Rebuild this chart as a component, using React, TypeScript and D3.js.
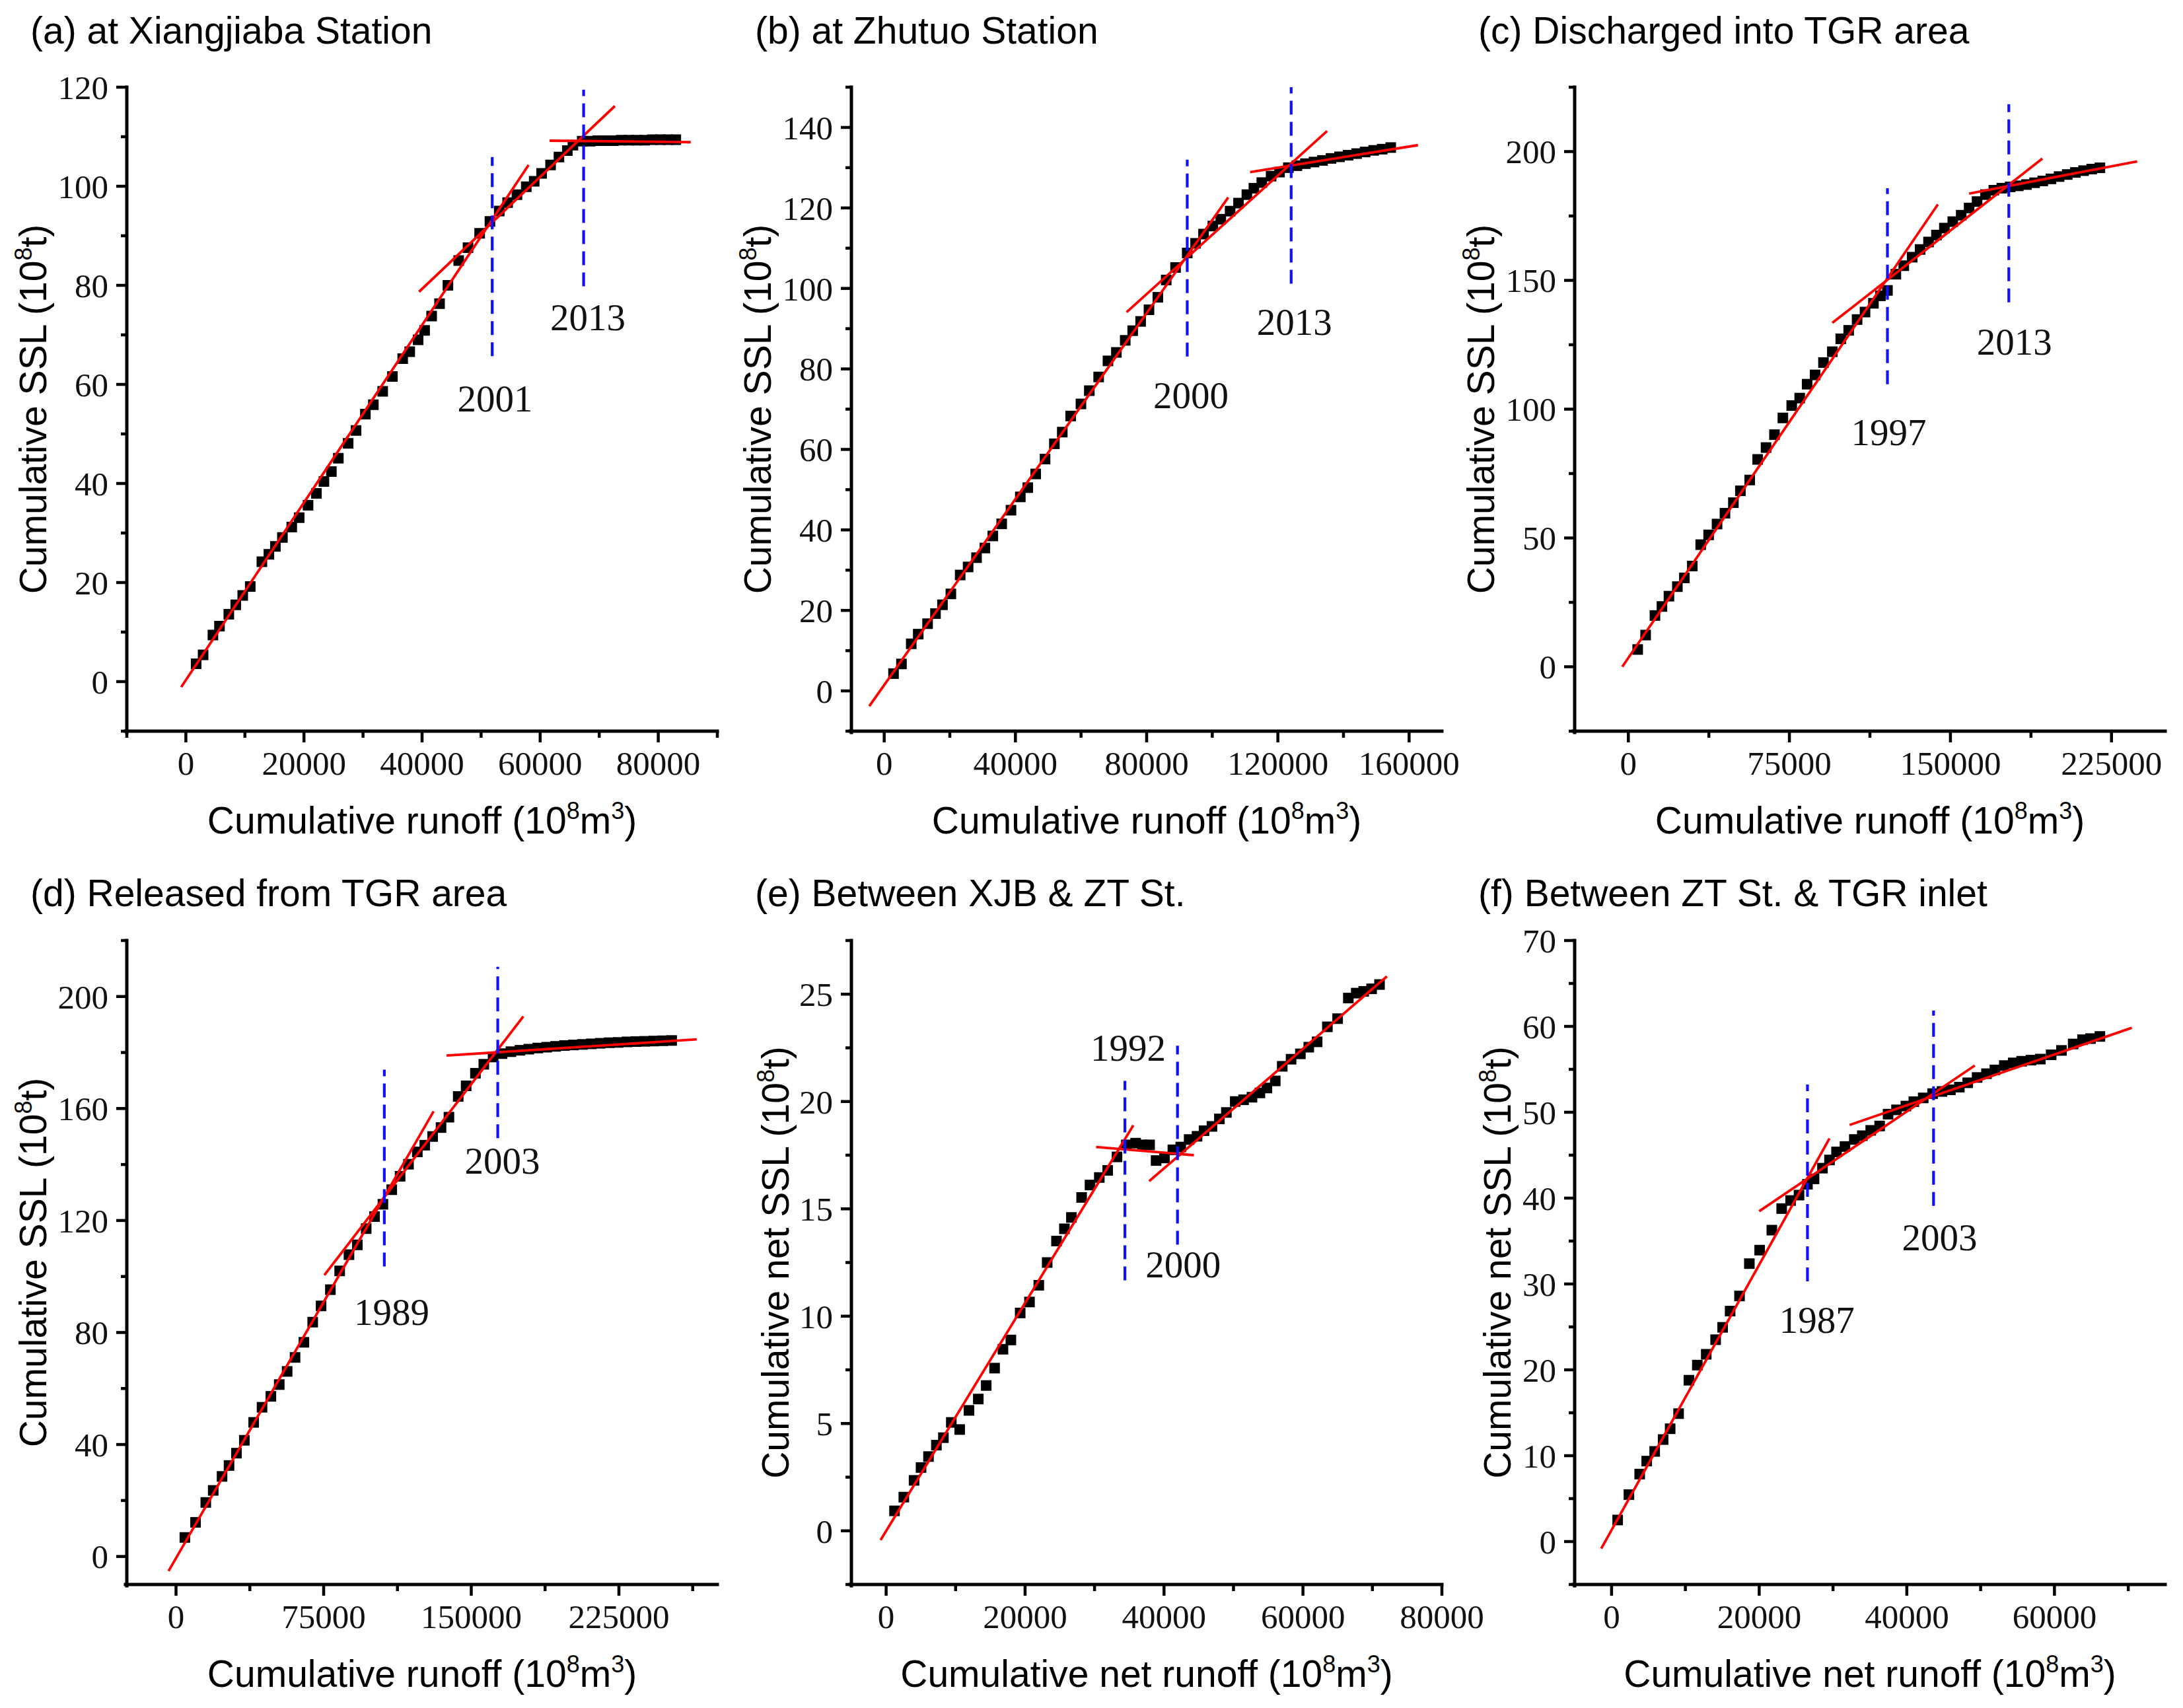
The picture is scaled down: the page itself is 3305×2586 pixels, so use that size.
import * as d3 from "d3";

// ---- data: cumulative runoff (x) vs cumulative SSL (y) ----

const runoffA = [1740, 2920, 4580, 5690, 7270, 8450, 9630, 10900, 12870, 14060, 15160, 16350, 17930, 19190, 20690, 22110, 23380, 24640, 25820, 27480, 28820, 30400, 31750, 33330, 34980, 36720, 37910, 39330, 40430, 41620, 42960, 44380, 46200, 47780, 49750, 51490, 53070, 54490, 56070, 57650, 58990, 60250, 61760, 63180, 64600, 65550, 67130, 68450, 69770, 71090, 72410, 73730, 75050, 76370, 77690, 79010, 80330, 81650, 82970];
const sslA = [3.6, 5.4, 9.4, 11.2, 13.6, 15.5, 17.4, 19.2, 24.2, 25.7, 27.3, 29.1, 31.2, 33.1, 35.6, 38.0, 40.4, 42.4, 45.1, 48.1, 50.7, 54.0, 55.9, 58.6, 61.6, 65.2, 66.6, 69.0, 70.9, 73.8, 76.3, 80.0, 85.0, 87.6, 90.5, 92.9, 95.0, 96.7, 98.3, 99.9, 101.0, 102.6, 104.3, 105.9, 107.2, 108.3, 109.1, 109.1, 109.2, 109.2, 109.2, 109.3, 109.3, 109.3, 109.3, 109.4, 109.4, 109.4, 109.4];
const fitA = [[-790, -1.1, 58040, 104.3], [39490, 78.7, 72650, 116.2], [61600, 109.2, 85500, 108.9]];
const breaksA = [{ x: 51880, y0: 65.7, y1: 105.9 }, { x: 67360, y0: 79.8, y1: 119.5 }];
const yearsA = [{ text: "2001", x: 52360, y: 54.6 }, { text: "2013", x: 68070, y: 70.9 }];

const runoffB = [2840, 5260, 8240, 10370, 13220, 15630, 17760, 20320, 23160, 25580, 28140, 30690, 33110, 35810, 38650, 41490, 43770, 46180, 49030, 51870, 54280, 56840, 59970, 62520, 65370, 68210, 70770, 73470, 75740, 78160, 80710, 83410, 85970, 88810, 92370, 94920, 97340, 100180, 102600, 105440, 108000, 110550, 112690, 115100, 117940, 120500, 123200, 125800, 128400, 131000, 133600, 136200, 138800, 141400, 144000, 146600, 149200, 151800, 154400];
const sslB = [4.3, 6.7, 11.7, 14.1, 16.7, 19.2, 21.4, 24.1, 28.8, 30.8, 33.1, 35.5, 38.5, 41.5, 44.9, 48.2, 50.5, 53.9, 57.6, 61.4, 64.3, 68.3, 71.3, 74.6, 78.0, 82.0, 84.1, 87.1, 89.5, 91.8, 94.7, 97.8, 102.1, 105.2, 108.8, 111.2, 113.5, 115.5, 117.2, 119.2, 121.2, 123.3, 124.9, 126.3, 127.9, 128.9, 130.0, 130.5, 131.0, 131.4, 131.8, 132.3, 132.7, 133.1, 133.5, 133.9, 134.3, 134.6, 135.0];
const fitB = [[-4550, -3.8, 104870, 122.6], [73890, 94.1, 135000, 139.1], [111550, 128.9, 162700, 135.6]];
const breaksB = [{ x: 92370, y0: 83.1, y1: 132 }, { x: 124050, y0: 101.2, y1: 150 }];
const yearsB = [{ text: "2000", x: 93500, y: 70.3 }, { text: "2013", x: 125050, y: 88.4 }];

const runoffC = [4350, 8040, 12390, 15650, 18910, 22830, 26090, 29780, 33700, 37390, 41310, 45000, 48920, 52180, 56520, 60220, 64130, 68050, 71960, 76090, 79790, 83260, 86960, 90870, 95000, 98920, 102610, 106530, 110220, 114140, 117400, 120660, 124570, 128270, 132180, 135880, 139790, 143480, 147180, 151090, 155010, 158700, 162400, 166310, 170220, 173920, 177800, 181600, 185400, 189200, 193000, 196800, 200600, 204400, 208200, 212000, 215800, 219600];
const sslC = [6.7, 12.3, 19.9, 23.4, 27.4, 31.1, 34.5, 39.1, 47.4, 51.2, 55.4, 59.6, 63.7, 68.3, 72.5, 80.5, 85.1, 90.1, 96.6, 101.4, 104.3, 109.7, 113.3, 118.1, 122.3, 127.3, 130.6, 134.8, 137.7, 141.1, 144.0, 146.1, 152.4, 155.7, 159.0, 162.0, 164.9, 167.6, 170.3, 172.8, 175.3, 178.1, 180.6, 183.3, 185.0, 185.8, 186.3, 186.7, 187.2, 187.9, 188.6, 189.4, 190.3, 191.1, 191.9, 192.6, 193.2, 193.7];
const fitC = [[-2830, 0, 144140, 179.5], [95000, 133.5, 192830, 197.3], [158700, 183.7, 236970, 196.2]];
const breaksC = [{ x: 120660, y0: 109.7, y1: 185.8 }, { x: 177180, y0: 141.5, y1: 218.4 }];
const yearsC = [{ text: "1997", x: 121300, y: 86.1 }, { text: "2013", x: 179800, y: 121.2 }];

const runoffD = [4490, 9920, 15120, 18900, 23380, 26930, 30710, 34720, 39450, 43700, 48190, 52440, 56450, 60470, 64960, 69440, 73690, 78420, 83140, 87870, 92120, 96610, 100860, 105110, 109600, 113850, 118100, 122590, 126370, 130380, 134630, 138650, 143370, 147390, 152110, 156360, 161090, 165630, 170160, 174700, 179230, 183770, 188300, 192840, 197370, 201910, 206440, 210980, 215510, 220050, 224580, 229120, 233650, 238190, 242720, 247260, 251800];
const sslD = [6.8, 12.2, 19.3, 23.6, 28.6, 32.5, 36.9, 41.5, 47.9, 53.3, 57.2, 61.4, 66.1, 71.1, 76.5, 83.7, 89.5, 95.3, 102.0, 107.8, 111.3, 117.1, 121.4, 125.8, 131.0, 135.8, 140.1, 144.5, 146.9, 150.0, 153.2, 156.9, 164.3, 168.1, 172.6, 175.8, 178.4, 179.6, 180.3, 180.8, 181.2, 181.6, 181.9, 182.2, 182.5, 182.7, 182.9, 183.1, 183.3, 183.5, 183.6, 183.8, 183.9, 184.0, 184.1, 184.2, 184.3];
const fitD = [[-3780, -5.2, 130860, 159.0], [75350, 100.5, 176440, 192.9], [137470, 178.9, 264540, 184.7]];
const breaksD = [{ x: 105820, y0: 103.6, y1: 173.9 }, { x: 163450, y0: 149.4, y1: 210.6 }];
const yearsD = [{ text: "1989", x: 109600, y: 82.7 }, { text: "2003", x: 165800, y: 136.8 }];

const runoffE = [1206, 2546, 4020, 5025, 6097, 7236, 8241, 9380, 10586, 11926, 13266, 14405, 15611, 16817, 17956, 19296, 20636, 21976, 23182, 24522, 25661, 26666, 28140, 29346, 30686, 31892, 33232, 34572, 35912, 36917, 37922, 38860, 40066, 41272, 42411, 43617, 44756, 45761, 46900, 47972, 48977, 50250, 51456, 52662, 53801, 54806, 56012, 57017, 58290, 59630, 60836, 62042, 63516, 64990, 66531, 67670, 68742, 69881, 71020];
const sslE = [0.93, 1.57, 2.35, 2.95, 3.46, 3.99, 4.34, 5.05, 4.72, 5.61, 6.14, 6.77, 7.58, 8.46, 8.89, 10.15, 10.66, 11.44, 12.5, 13.5, 14.07, 14.6, 15.53, 16.11, 16.46, 16.79, 17.42, 17.98, 18.06, 17.98, 17.98, 17.25, 17.37, 17.75, 17.88, 18.23, 18.38, 18.64, 18.84, 19.19, 19.49, 20.0, 20.08, 20.2, 20.4, 20.63, 20.96, 21.64, 21.97, 22.22, 22.53, 22.78, 23.48, 23.86, 24.82, 25.05, 25.13, 25.25, 25.45];
const fitE = [[-800, -0.43, 35580, 18.89], [30220, 17.88, 44290, 17.5], [37860, 16.29, 72090, 25.83]];
const breaksE = [{ x: 34370, y0: 11.67, y1: 20.96 }, { x: 41940, y0: 13.33, y1: 22.6 }];
const yearsE = [{ text: "1992", x: 34840, y: 21.9 }, { text: "2000", x: 42750, y: 11.8 }];

const runoffF = [825, 2349, 3809, 4762, 5841, 6984, 7936, 9079, 10476, 11619, 12825, 14095, 15047, 16063, 17333, 18666, 20063, 21714, 23047, 24253, 25396, 26539, 27428, 28571, 29523, 30476, 31619, 32888, 33968, 35111, 36317, 37460, 38603, 39873, 40952, 42222, 43492, 44761, 45904, 47110, 48253, 49523, 50792, 51935, 53205, 54411, 55554, 56824, 58093, 59554, 60950, 62538, 63808, 64888, 66157];
const sslF = [2.51, 5.47, 7.86, 9.37, 10.5, 11.88, 13.14, 14.9, 18.79, 20.55, 21.81, 23.51, 24.95, 26.84, 28.6, 32.37, 33.94, 36.27, 38.78, 39.72, 40.35, 41.61, 42.24, 43.49, 44.44, 45.38, 46.01, 46.83, 47.27, 47.89, 48.4, 49.78, 50.28, 50.72, 51.23, 51.67, 52.17, 52.42, 52.61, 52.92, 53.43, 54.05, 54.49, 54.93, 55.44, 55.75, 55.94, 56.07, 56.19, 56.69, 57.2, 57.95, 58.45, 58.58, 58.83];
const fitF = [[-1400, -0.82, 29520, 46.95], [20000, 38.47, 49210, 55.44], [32250, 48.52, 70480, 59.84]];
const breaksF = [{ x: 26540, y0: 30.3, y1: 53.24 }, { x: 43620, y0: 39.1, y1: 61.85 }];
const yearsF = [{ text: "1987", x: 27810, y: 24.3 }, { text: "2003", x: 44440, y: 33.9 }];

// ---- layout ----

const W = 3305;
const H = 2586;
const PW = 894;
const PH = 975;
const SANS = "'Liberation Sans', Arial, Helvetica, sans-serif";
const SERIF = "'Liberation Serif', 'Times New Roman', serif";
const MARK = 16;

const panels = [
  { title: "(a) at Xiangjiaba Station", left: 192, top: 132, titleGap: 66, xs: runoffA, ys: sslA, fits: fitA, breaks: breaksA, years: yearsA,
    xDomain: [-10000, 90000], xMajor: 20000, xMinor: 10000, xMax: 80000, yDomain: [-10, 120], yMajor: 20, yMinor: 10, yMax: 120, net: false, yTitleOff: 122 },
  { title: "(b) at Zhutuo Station", left: 1289, top: 132, titleGap: 66, xs: runoffB, ys: sslB, fits: fitB, breaks: breaksB, years: yearsB,
    xDomain: [-10000, 170000], xMajor: 40000, xMinor: 20000, xMax: 160000, yDomain: [-10, 150], yMajor: 20, yMinor: 10, yMax: 140, net: false, yTitleOff: 122 },
  { title: "(c) Discharged into TGR area", left: 2384, top: 132, titleGap: 66, xs: runoffC, ys: sslC, fits: fitC, breaks: breaksC, years: yearsC,
    xDomain: [-25000, 250000], xMajor: 75000, xMinor: 37500, xMax: 225000, yDomain: [-25, 225], yMajor: 50, yMinor: 25, yMax: 200, net: false, yTitleOff: 122 },
  { title: "(d) Released from TGR area", left: 192, top: 1424, titleGap: 52, xs: runoffD, ys: sslD, fits: fitD, breaks: breaksD, years: yearsD,
    xDomain: [-25000, 275000], xMajor: 75000, xMinor: 37500, xMax: 225000, yDomain: [-10, 220], yMajor: 40, yMinor: 20, yMax: 200, net: false, yTitleOff: 122 },
  { title: "(e) Between XJB & ZT St.", left: 1289, top: 1424, titleGap: 52, xs: runoffE, ys: sslE, fits: fitE, breaks: breaksE, years: yearsE,
    xDomain: [-5000, 80000], xMajor: 20000, xMinor: 10000, xMax: 80000, yDomain: [-2.5, 27.5], yMajor: 5, yMinor: 2.5, yMax: 25, net: true, yTitleOff: 95 },
  { title: "(f) Between ZT St. & TGR inlet", left: 2384, top: 1424, titleGap: 52, xs: runoffF, ys: sslF, fits: fitF, breaks: breaksF, years: yearsF,
    xDomain: [-5000, 75000], xMajor: 20000, xMinor: 10000, xMax: 60000, yDomain: [-5, 70], yMajor: 10, yMinor: 5, yMax: 70, net: true, yTitleOff: 97 },
];

function minorTicks(domain: number[], step: number, major: number) {
  const out: number[] = [];
  for (let v = Math.ceil(domain[0] / step - 1e-9) * step; v <= domain[1] + 1e-9; v += step) {
    const r = Math.abs(v / major - Math.round(v / major));
    if (r > 1e-6 || v < 0) out.push(v);
  }
  return out;
}

function Panel({ p }: { p: (typeof panels)[number] }) {
  const x = d3.scaleLinear().domain(p.xDomain).range([0, PW]);
  const y = d3.scaleLinear().domain(p.yDomain).range([PH, 0]);
  const xMaj = d3.range(0, p.xMax + 1, p.xMajor);
  const yMaj = d3.range(0, p.yMax + 1e-6, p.yMajor);
  const xMin = minorTicks(p.xDomain, p.xMinor, p.xMajor);
  const yMin = minorTicks(p.yDomain, p.yMinor, p.yMajor);
  const net = p.net ? "net " : "";

  return (
    <g transform={`translate(${p.left},${p.top})`}>
      <text x={-146} y={-p.titleGap} fontFamily={SANS} fontSize={57} fill="#000">{p.title}</text>

      {p.xs.map((v, i) => (
        <rect key={i} x={x(v) - MARK / 2} y={y(p.ys[i]) - MARK / 2} width={MARK} height={MARK} fill="#000" />
      ))}

      {p.fits.map((f, i) => (
        <line key={i} x1={x(f[0])} y1={y(f[1])} x2={x(f[2])} y2={y(f[3])} stroke="#ff0000" strokeWidth={3.8} />
      ))}

      {p.breaks.map((b, i) => (
        <line key={i} x1={x(b.x)} x2={x(b.x)} y1={y(b.y0)} y2={y(b.y1)} stroke="#1010ff" strokeWidth={4.2} strokeDasharray="21 11" />
      ))}

      {p.years.map((t, i) => (
        <text key={i} x={x(t.x)} y={y(t.y)} textAnchor="middle" fontFamily={SERIF} fontSize={57} fill="#111">{t.text}</text>
      ))}

      {/* axes */}
      <line x1={0} x2={0} y1={0} y2={PH + 2} stroke="#000" strokeWidth={5} strokeLinecap="square" />
      <line x1={-2} x2={PW} y1={PH} y2={PH} stroke="#000" strokeWidth={5} strokeLinecap="square" />
      {yMaj.map((v) => (
        <g key={"ym" + v}>
          <line x1={-16} x2={0} y1={y(v)} y2={y(v)} stroke="#000" strokeWidth={4.5} />
          <text x={-28} y={y(v)} dy="0.35em" textAnchor="end" fontFamily={SERIF} fontSize={51} fill="#111">{v}</text>
        </g>
      ))}
      {yMin.map((v) => (
        <line key={"yn" + v} x1={-9} x2={0} y1={y(v)} y2={y(v)} stroke="#000" strokeWidth={4.5} />
      ))}
      {xMaj.map((v) => (
        <g key={"xm" + v}>
          <line x1={x(v)} x2={x(v)} y1={PH} y2={PH + 17} stroke="#000" strokeWidth={4.5} />
          <text x={x(v)} y={PH + 66} textAnchor="middle" fontFamily={SERIF} fontSize={51} fill="#111">{v}</text>
        </g>
      ))}
      {xMin.map((v) => (
        <line key={"xn" + v} x1={x(v)} x2={x(v)} y1={PH} y2={PH + 10} stroke="#000" strokeWidth={4.5} />
      ))}

      {/* axis titles */}
      <text x={PW / 2} y={PH + 155} textAnchor="middle" fontFamily={SANS} fontSize={57} fill="#000">
        <tspan>{`Cumulative ${net}runoff (10`}</tspan>
        <tspan dy={-22} fontSize={36}>8</tspan>
        <tspan dy={22}>m</tspan>
        <tspan dy={-22} fontSize={36}>3</tspan>
        <tspan dy={22}>)</tspan>
      </text>
      <text transform={`translate(${-p.yTitleOff},${PH / 2}) rotate(-90)`} textAnchor="middle" fontFamily={SANS} fontSize={57} fill="#000">
        <tspan>{`Cumulative ${net}SSL (10`}</tspan>
        <tspan dy={-22} fontSize={36}>8</tspan>
        <tspan dy={22}>t)</tspan>
      </text>
    </g>
  );
}

export default function App() {
  return (
    <svg width={W} height={H} viewBox={`0 0 ${W} ${H}`} style={{ position: "absolute", left: 0, top: 0, background: "#fff" }}>
      <rect width={W} height={H} fill="#fff" />
      {panels.map((p) => (
        <Panel key={p.title} p={p} />
      ))}
    </svg>
  );
}
